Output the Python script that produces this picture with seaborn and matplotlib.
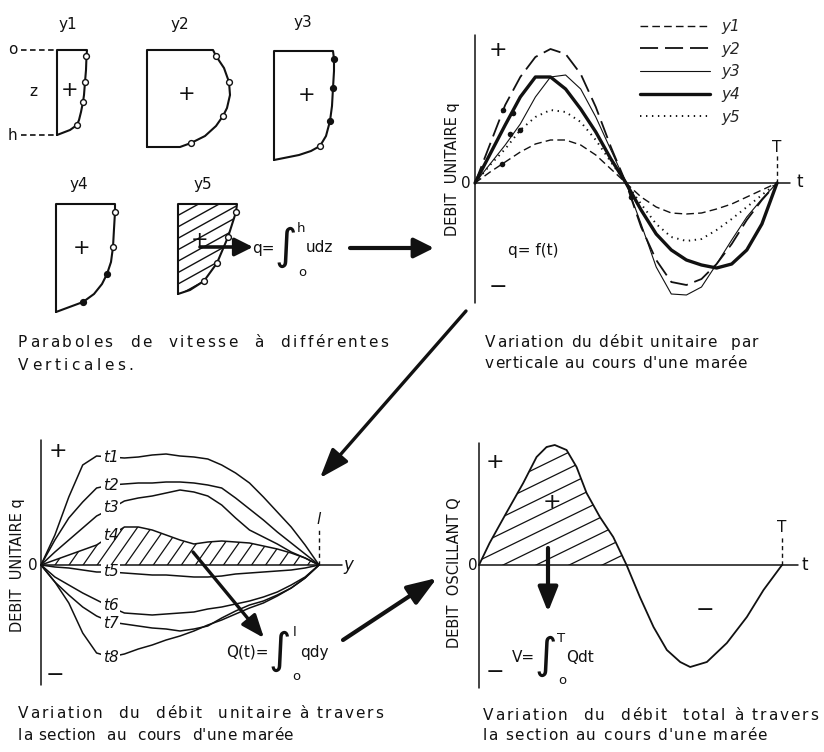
import numpy as np
import pandas as pd
import matplotlib
matplotlib.use("Agg")
import matplotlib.pyplot as plt
import seaborn as sns
from matplotlib.font_manager import FontProperties, findfont, get_font
from matplotlib.patches import Polygon

W, H, DPI = 824, 752, 100

# ---------------- data ----------------
# top right: unit discharge q on each vertical during one tide (t as fraction of T)
t_frac = [0, .05, .1, .15, .2, .25, .3, .35, .4, .45, .5,
          .55, .6, .65, .7, .75, .8, .85, .9, .95, 1]
q_y1 = [0, 11, 21, 31, 39, 43, 43, 38, 28, 14, 0, -14, -24, -30, -31, -30, -26, -21, -14, -7, 0]
q_y2 = [0, 39, 78, 106, 126, 134, 129, 109, 76, 36, 0, -44, -77, -99, -102, -96, -81, -61, -37, -17, 0]
q_y3 = [0, 19, 38, 59, 86, 106, 108, 94, 66, 33, 0, -41, -84, -111, -112, -104, -81, -57, -34, -16, 0]
q_y4 = [0, 29, 58, 86, 106, 106, 94, 74, 51, 24, 0, -27, -51, -67, -77, -82, -85, -81, -67, -41, 0]
q_y5 = [0, 18, 34, 53, 66, 73, 71, 61, 43, 21, 0, -21, -41, -54, -58, -56, -47, -36, -24, -12, 0]
verticals = ["y1", "y2", "y3", "y4", "y5"]
dot_t = [0.094, 0.127, 0.116, 0.149, 0.088, 0.518]
dot_q = [73, 70, 49, 53, 19, -14]

# bottom left: q across the section (y as fraction of width l) at times t1..t8
s_frac = [0, .05, .1, .15, .2, .25, .3, .35, .4, .45, .5,
          .55, .6, .65, .7, .75, .8, .85, .9, .95, 1]
q_t1 = [0, 30, 68, 100, 109, 108, 107, 108, 110, 111, 109, 108, 106, 100, 92, 82, 68, 53, 38, 20, 0]
q_t2 = [0, 25, 47, 63, 77, 80, 81, 82, 82, 83, 83, 82, 80, 77, 67, 56, 45, 33, 22, 11, 0]
q_t3 = [0, 13, 25, 37, 49, 56, 64, 67, 69, 72, 75, 73, 69, 60, 47, 35, 28, 21, 13, 7, 0]
q_t4 = [0, 5, 10, 15, 20, 29, 38, 38, 35, 30, 25, 21, 23, 24, 23, 22, 19, 16, 12, 7, 0]
q_t5 = [0, -2, -3, -5, -7, -7, -8, -9, -10, -10, -11, -12, -12, -11, -9, -8, -7, -6, -5, -3, 0]
q_t6 = [0, -12, -20, -28, -35, -42, -48, -49, -50, -49, -48, -47, -44, -42, -39, -36, -32, -27, -20, -12, 0]
q_t7 = [0, -17, -30, -42, -51, -57, -59, -61, -63, -64, -66, -64, -61, -53, -46, -40, -36, -30, -23, -13, 0]
q_t8 = [0, -17, -38, -68, -88, -92, -89, -84, -80, -75, -71, -66, -60, -55, -49, -43, -38, -31, -23, -13, 0]
times = ["t1", "t2", "t3", "t4", "t5", "t6", "t7", "t8"]
time_label_q = [108, 80, 58, 30, -7, -40, -58, -92]

# bottom right: total (oscillating) discharge Q over one tide
t_Q = [0, .035, .09, .146, .19, .223, .25, .289, .322, .355, .399, .443, .487,
       .531, .576, .62, .664, .697, .752, .818, .884, .939, 1]
Q_tot = [0, 22, 52, 82, 108, 118, 120, 115, 98, 72, 48, 28, 0,
         -32, -62, -85, -97, -102, -97, -78, -52, -25, 0]

# velocity profiles u(z) on the five verticals (offsets from box corner)
p1_z = [0, 6, 20, 32, 45, 52, 62, 70, 75, 80, 85]
p1_u = [30, 29.5, 29, 28, 27, 26, 24, 22, 20, 13, 0]
p2_z = [0, 6, 18, 32, 45, 58, 66, 76, 86, 93, 97, 97]
p2_u = [66, 69, 77, 82, 83, 80, 76, 69, 58, 44, 33, 0]
p3_z = [0, 8, 20, 37, 55, 70, 85, 95, 100, 104, 109]
p3_u = [59, 60, 60, 59, 58, 56, 52, 46, 37, 25, 0]
p4_z = [0, 8, 25, 43, 58, 70, 80, 90, 98, 108]
p4_u = [59, 59, 58, 57, 55, 51, 46, 38, 27, 0]
p5_z = [0, 8, 33, 59, 77, 86, 90]
p5_u = [59, 58, 50, 39, 26, 12, 0]
m1_z, m1_u, m1_fill = [6, 32, 52, 75], [29.5, 28, 26, 20], [0, 0, 0, 0]
m2_z, m2_u, m2_fill = [6, 32, 66, 93], [69, 82, 76, 44], [0, 0, 0, 0]
m3_z, m3_u, m3_fill = [8, 37, 70, 95], [60, 59, 56, 46], [1, 1, 1, 0]
m4_z, m4_u, m4_fill = [8, 43, 70, 98], [59, 57, 51, 27], [0, 0, 1, 1]
m5_z, m5_u, m5_fill = [8, 33, 59, 77], [58, 50, 39, 26], [0, 0, 0, 0]

# ---------------- figure ----------------
sns.set_style("white")
plt.rcParams["font.family"] = ["DejaVu Sans"]
plt.rcParams["lines.scale_dashes"] = False
plt.rcParams["lines.dash_capstyle"] = "butt"

fig = plt.figure(figsize=(W / DPI, H / DPI), dpi=DPI)
fig.patch.set_facecolor("white")

ov = fig.add_axes([0, 0, 1, 1])
ov.set_xlim(0, W)
ov.set_ylim(H, 0)
ov.axis("off")
ov.set_zorder(10)
ov.patch.set_visible(False)

INK = "#111111"


def panel(box, x0, sx, y0, sy=1.0):
    l, t, r, b = box
    ax = fig.add_axes([l / W, 1 - b / H, (r - l) / W, (b - t) / H])
    ax.set_xlim((l - x0) / sx, (r - x0) / sx)
    ax.set_ylim((y0 - b) / sy, (y0 - t) / sy)
    ax.axis("off")
    ax.patch.set_visible(False)
    return ax


def txt(x, y, s, size=11, **kw):
    kw.setdefault("ha", "center")
    kw.setdefault("va", "center")
    ov.text(x, y, s, fontsize=size, color=INK, **kw)


def tracked(x0, x1, y, s, size=11):
    font = get_font(findfont(FontProperties(family="DejaVu Sans")))
    font.set_size(size, DPI)
    adv = [font.load_char(ord(c)).linearHoriAdvance / 65536 for c in s]
    gap = (x1 - x0 - sum(adv)) / (len(s) - 1)
    x = x0
    for c, a in zip(s, adv):
        if c != " ":
            ov.text(x, y, c, fontsize=size, color=INK, ha="left", va="baseline")
        x += a + gap


def arrow(p0, p1, lw=2.4, hl=1.1, hw=0.45):
    ov.annotate("", xy=p1, xytext=p0,
                arrowprops=dict(arrowstyle=f"-|>,head_length={hl},head_width={hw}",
                                lw=lw, color=INK, shrinkA=0, shrinkB=0,
                                mutation_scale=10))


def hatch(path, trans, angle, spacing, lw=0.9):
    a = np.deg2rad(angle)
    d = np.array([np.cos(a), -np.sin(a)])
    n = np.array([np.sin(a), np.cos(a)])
    v = trans.transform(path.vertices)
    px = np.column_stack([v[:, 0], H - v[:, 1]])
    proj = px @ n
    ctr = px.mean(axis=0)
    L = np.ptp(px[:, 0]) + np.ptp(px[:, 1]) + 20
    for c in np.arange(proj.min() - spacing, proj.max() + spacing, spacing):
        base = ctr + (c - ctr @ n) * n
        p0, p1 = base - L * d, base + L * d
        ln, = ov.plot([p0[0], p1[0]], [p0[1], p1[1]], color=INK, lw=lw)
        ln.set_clip_path(path, trans)


def integral(x, y, pre, post, upper, size=11):
    # x is the centre of the integral sign
    txt(x - 11, y, pre, size, ha="right")
    txt(x, y - 1, "\u222B", 31)
    txt(x + 15, y - 19, upper, 9.5)
    txt(x + 16, y + 24, "o", 9.5)
    txt(x + 20, y, post, size, ha="left")


# ---------- velocity profiles ----------
profiles = [
    ("y1", (57, 50), p1_u, p1_z, m1_u, m1_z, m1_fill),
    ("y2", (147, 50), p2_u, p2_z, m2_u, m2_z, m2_fill),
    ("y3", (274, 51), p3_u, p3_z, m3_u, m3_z, m3_fill),
    ("y4", (56, 204), p4_u, p4_z, m4_u, m4_z, m4_fill),
    ("y5", (178, 204), p5_u, p5_z, m5_u, m5_z, m5_fill),
]
title_pos = {"y1": (68, 24), "y2": (180, 24), "y3": (303, 22), "y4": (79, 184), "y5": (203, 184)}
plus_pos = {"y1": (70, 90), "y2": (187, 94), "y3": (307, 95), "y4": (82, 248), "y5": (200, 240)}
for name, (bx, by), u, z, mu, mz, mf in profiles:
    zend = z[-1]
    xs = [bx, bx] + [bx + ui for ui in u] + [bx]
    ys = [by + zend, by] + [by + zi for zi in z] + [by + zend]
    ov.plot(xs, ys, color=INK, lw=1.5)
    for ui, zi, f in zip(mu, mz, mf):
        ov.plot(bx + ui, by + zi, "o", ms=4.2, mew=1.0, mec=INK,
                mfc=INK if f else "white", zorder=12)
    txt(*title_pos[name], name, 11)
    txt(*plus_pos[name], "+", 15)
    if name == "y5":
        poly = Polygon(np.column_stack([xs, ys]), closed=True, fill=False,
                       edgecolor="none", transform=ov.transData)
        ov.add_patch(poly)
        hatch(poly.get_path(), ov.transData, 29, 10, lw=1.0)

# depth markers on y1
ov.plot([21, 57], [50, 50], color=INK, lw=1.2, ls=(0, (4, 2.5)))
ov.plot([21, 57], [135, 135], color=INK, lw=1.2, ls=(0, (4, 2.5)))
txt(13, 49, "o", 11)
txt(12, 135, "h", 11)
txt(33, 92, "z", 11)

# integral relation and arrows of the top row
arrow((200, 247), (253, 247), lw=2.6, hl=1.1, hw=0.55)
integral(286, 248, "q=", "udz", "h")
arrow((350, 248), (434, 248), lw=3.0, hl=1.2, hw=0.6)

# ---------- top right: q(t) per vertical ----------
axA = panel((455, 30, 815, 310), 475, 302, 183)
dfA = pd.DataFrame({
    "t": t_frac * 5,
    "q": q_y1 + q_y2 + q_y3 + q_y4 + q_y5,
    "vertical": np.repeat(verticals, len(t_frac)),
})
styleA = {
    "y1": dict(linewidth=1.0, linestyle=(0, (5.5, 3))),
    "y2": dict(linewidth=1.3, linestyle=(0, (13, 5))),
    "y3": dict(linewidth=0.8, linestyle="-"),
    "y4": dict(linewidth=2.4, linestyle="-"),
    "y5": dict(linewidth=1.4, linestyle=(0, (1, 3.3))),
}
axA.plot([0, 0], [148, -120], color=INK, lw=1.1)
axA.plot([0, 1.043], [0, 0], color=INK, lw=1.1)
axA.plot([1, 1], [0, 28], color=INK, lw=1.0, ls=(0, (3, 2.5)))
for v in verticals:
    sns.lineplot(data=dfA[dfA["vertical"] == v], x="t", y="q", ax=axA, color=INK,
                 estimator=None, sort=False, label=v, **styleA[v])
sns.scatterplot(x=dot_t, y=dot_q, ax=axA, color=INK, s=16, linewidth=0, legend=False)
axA.legend(loc="upper left", bbox_to_anchor=(640 / W, 1 - 19 / H),
           bbox_transform=fig.transFigure, frameon=False, handlelength=4.6,
           handletextpad=0.7, labelspacing=0.5, borderpad=0, borderaxespad=0,
           prop=dict(style="italic", size=11))
axA.set_xlabel("")
axA.set_ylabel("")
txt(453, 169, "DEBIT  UNITAIRE q", 10.5, rotation=90)
txt(466, 183, "0", 11)
txt(800, 182, "t", 12)
txt(777, 147, "T", 11)
txt(498, 50, "+", 16)
txt(498, 287, "\u2212", 16)
txt(508, 250, "q= f(t)", 11, ha="left")

# ---------- bottom left: q(y) at successive times ----------
axB = panel((5, 435, 360, 695), 41, 278, 565)
dfB = pd.DataFrame({
    "s": s_frac * 8,
    "q": q_t1 + q_t2 + q_t3 + q_t4 + q_t5 + q_t6 + q_t7 + q_t8,
    "time": np.repeat(times, len(s_frac)),
})
axB.plot([0, 0], [125, -120], color=INK, lw=1.1)
axB.plot([0, 1.083], [0, 0], color=INK, lw=1.1)
axB.plot([1, 1], [0, 35], color=INK, lw=1.0, ls=(0, (3, 2.5)))
for tm in times:
    sns.lineplot(data=dfB[dfB["time"] == tm], x="s", y="q", ax=axB, color=INK,
                 linewidth=1.1, estimator=None, sort=False, legend=False)
polyB = axB.fill_between(s_frac, q_t4, 0, facecolor="none", edgecolor="none")
hatch(polyB.get_paths()[0], axB.transData, 55, 11.5, lw=0.9)
for tm, lq in zip(times, time_label_q):
    axB.text(0.25, lq, tm, fontsize=11, style="italic", color=INK, ha="center",
             va="center", zorder=5,
             bbox=dict(facecolor="white", edgecolor="none", pad=1.0))
axB.set_xlabel("")
axB.set_ylabel("")
txt(18, 565, "DEBIT  UNITAIRE q", 10.5, rotation=90)
txt(33, 565, "0", 11)
txt(348, 565, "y", 12, style="italic")
txt(319, 520, "l", 11, style="italic")
txt(58, 451, "+", 16)
txt(55, 675, "\u2212", 16)
arrow((193, 552), (264, 638), lw=2.4, hl=1.4, hw=0.55)
integral(280, 652, "Q(t)=", "qdy", "l")

# ---------- bottom right: Q(t) ----------
axC = panel((445, 435, 824, 695), 479, 303, 565)
axC.plot([0, 0], [122, -123], color=INK, lw=1.1)
axC.plot([0, 1.053], [0, 0], color=INK, lw=1.1)
axC.plot([1, 1], [0, 30], color=INK, lw=1.0, ls=(0, (3, 2.5)))
sns.lineplot(x=t_Q, y=Q_tot, ax=axC, color=INK, linewidth=1.3, estimator=None,
             sort=False, legend=False)
polyC = axC.fill_between(t_Q[:13], Q_tot[:13], 0, facecolor="none", edgecolor="none")
hatch(polyC.get_paths()[0], axC.transData, 26, 14.5, lw=0.9)
axC.set_xlabel("")
axC.set_ylabel("")
txt(455, 573, "DEBIT  OSCILLANT Q", 10.5, rotation=90)
txt(473, 565, "0", 11)
txt(805, 565, "t", 12)
txt(782, 527, "T", 11)
txt(495, 462, "+", 16)
txt(495, 672, "\u2212", 16)
txt(552, 502, "+", 16)
txt(705, 610, "\u2212", 16)
arrow((548, 548), (548, 612), lw=3.0, hl=1.5, hw=0.6)
integral(546, 657, "V=", "Qdt", "T")

# connecting arrows between panels
arrow((466, 311), (320, 478), lw=2.4, hl=1.8, hw=0.65)
arrow((343, 640), (437, 578), lw=3.0, hl=1.8, hw=0.65)

# ---------- captions ----------
tracked(18, 388, 347, "Paraboles  de  vitesse  à  différentes")
tracked(18, 133, 370, "Verticales.")
tracked(485, 758, 347, "Variation du débit unitaire  par")
tracked(485, 747, 368, "verticale au cours d'une marée")
tracked(18, 383, 718, "Variation  du  débit  unitaire à travers")
tracked(18, 293, 740, "la section  au  cours  d'une marée")
tracked(483, 818, 720, "Variation  du  débit  total à travers")
tracked(483, 767, 740, "la section au cours d'une marée")

fig.savefig("out.png", dpi=DPI, facecolor="white")
plt.close(fig)
